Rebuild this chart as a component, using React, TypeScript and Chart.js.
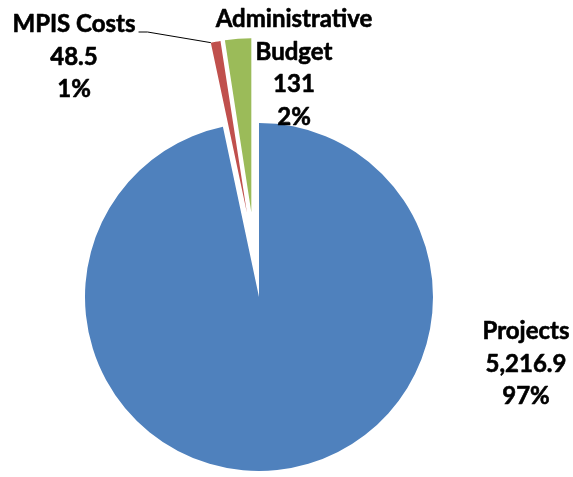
import React, { useEffect, useRef } from "react";
import { Chart, registerables } from "chart.js";
Chart.register(...registerables);

// ---- data ----
const categories: string[][] = [["Projects"], ["MPIS Costs"], ["Administrative", "Budget"]];
const values: number[] = [5216.9, 48.5, 131];

// ---- style ----
const colors = ["#4F81BD", "#C0504D", "#9BBB59"];
const explode = [0, 85, 85];
const labelOffset: [number, number][] = [[267, 42], [-185, -265], [35, -270]];
const hasLeader = [false, true, false];
const FONT = "bold 24px Lato";
const LINE_H = 32.6;

export default function App() {
  const ref = useRef<HTMLCanvasElement>(null);
  useEffect(() => {
    if (!ref.current) return;
    const total = values.reduce((a, b) => a + b, 0);
    const fmt = (v: number) => v.toLocaleString("en-US", { maximumFractionDigits: 1 });

    const explodePlugin = {
      id: "explodeSlices",
      afterDatasetUpdate(chart: any, args: any) {
        const arcs = chart.getDatasetMeta(args.index).data as any[];
        let s = Infinity, e = -Infinity;
        arcs.forEach((a, i) => {
          if (explode[i] > 0) { s = Math.min(s, a.startAngle); e = Math.max(e, a.endAngle); }
        });
        const groupMid = (s + e) / 2;
        arcs.forEach((a, i) => {
          if (explode[i] > 0) {
            const mid = ((a.startAngle + a.endAngle) / 2 + groupMid) / 2;
            a.x += Math.cos(mid) * explode[i];
            a.y += Math.sin(mid) * explode[i];
          }
        });
      },
    };

    const labelPlugin = {
      id: "sliceLabels",
      afterDraw(chart: any) {
        const ctx = chart.ctx as CanvasRenderingContext2D;
        const arcs = chart.getDatasetMeta(0).data as any[];
        const cx = arcs[0].x, cy = arcs[0].y;
        ctx.save();
        ctx.font = FONT;
        ctx.fillStyle = "#000";
        ctx.strokeStyle = "#000";
        ctx.lineJoin = "round";
        ctx.textAlign = "center";
        ctx.textBaseline = "alphabetic";
        values.forEach((v, i) => {
          const lines = [...categories[i], fmt(v), Math.round((v / total) * 100) + "%"];
          const x = cx + labelOffset[i][0];
          const y0 = cy + labelOffset[i][1];
          lines.forEach((t, k) => {
            ctx.lineWidth = 0.6;
            ctx.fillText(t, x, y0 + k * LINE_H);
            ctx.strokeText(t, x, y0 + k * LINE_H);
          });
          if (hasLeader[i]) {
            const a = arcs[i];
            const w = ctx.measureText(lines[0]).width;
            const sx = x + w / 2 + 3;
            const ex = a.x + Math.cos(a.startAngle) * a.outerRadius;
            const ey = a.y + Math.sin(a.startAngle) * a.outerRadius;
            ctx.beginPath();
            ctx.lineWidth = 1;
            ctx.moveTo(sx, y0);
            ctx.lineTo(sx + 9, y0);
            ctx.lineTo(ex, ey);
            ctx.stroke();
          }
        });
        ctx.restore();
      },
    };

    const chart = new Chart(ref.current, {
      type: "pie",
      data: {
        labels: categories.map((c) => c.join(" ")),
        datasets: [
          {
            data: values,
            backgroundColor: colors,
            borderWidth: 0,
            radius: 174,
            clip: false,
          } as any,
        ],
      },
      options: {
        animation: false,
        responsive: true,
        maintainAspectRatio: false,
        layout: { padding: { left: 0, right: 55, top: 117, bottom: 0 } },
        plugins: { legend: { display: false }, tooltip: { enabled: false } },
      },
      plugins: [explodePlugin, labelPlugin],
    });
    return () => chart.destroy();
  }, []);

  return (
    <div style={{ position: "relative", width: 573, height: 477 }}>
      <style>{"body{margin:0}"}</style>
      <canvas ref={ref} />
    </div>
  );
}
